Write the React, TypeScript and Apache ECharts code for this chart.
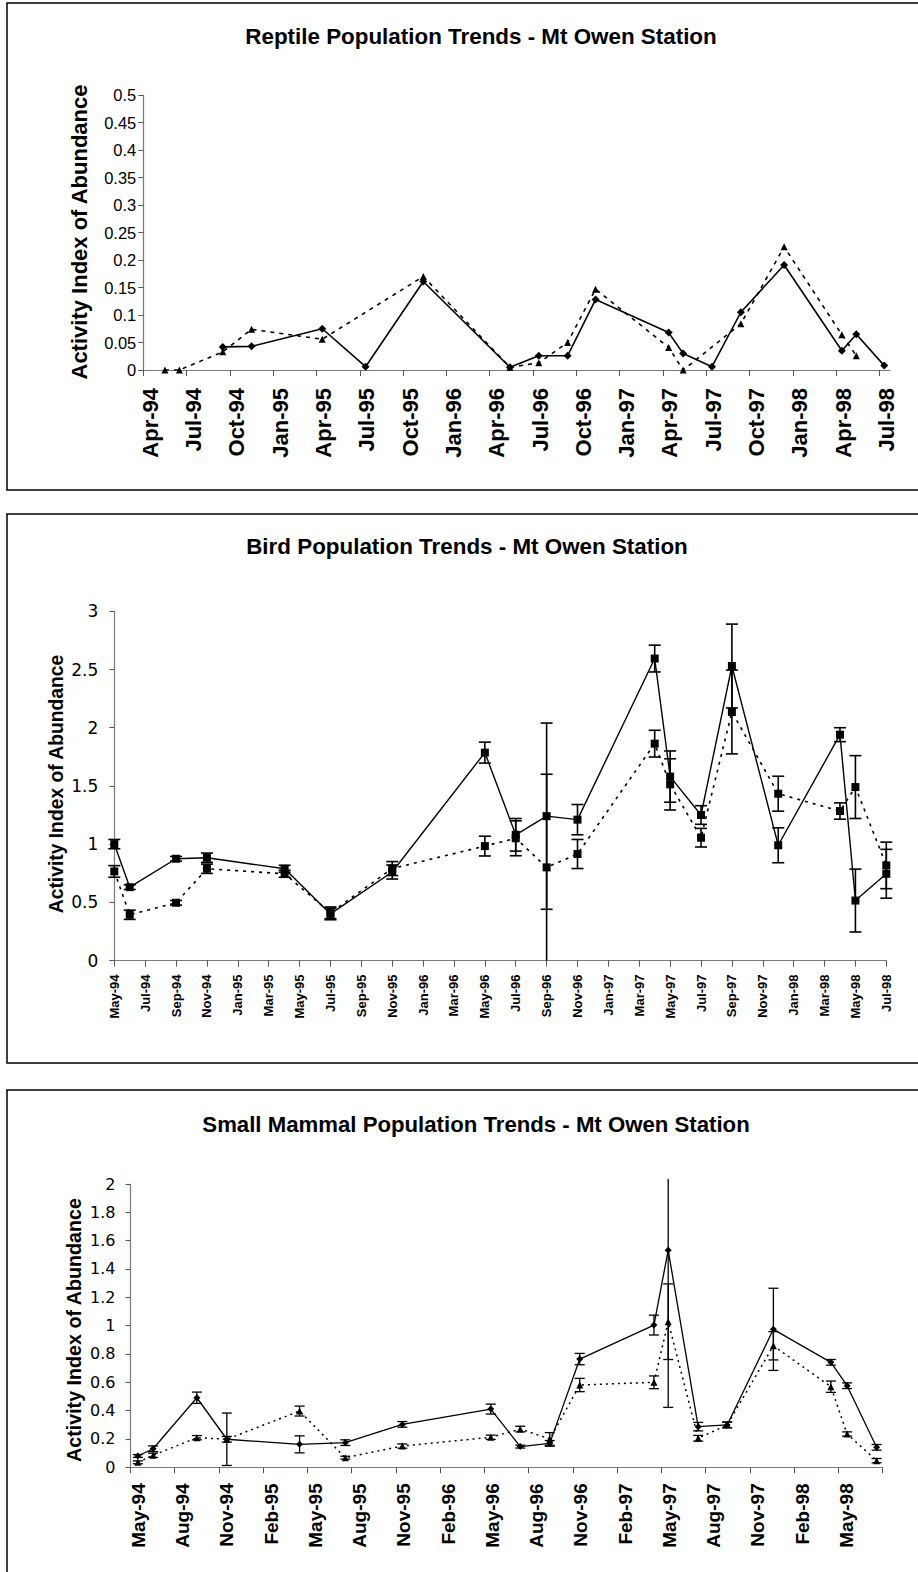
import { useEffect, useRef } from 'react';
import * as echarts from 'echarts';

const MONTHS = ['Jan', 'Feb', 'Mar', 'Apr', 'May', 'Jun', 'Jul', 'Aug', 'Sep', 'Oct', 'Nov', 'Dec'];

// ---------------- Reptiles ----------------
const reptileDates = ['1994-05-16', '1994-06-16', '1994-09-16', '1994-11-16', '1995-04-13', '1995-07-13', '1995-11-13', '1996-05-13', '1996-07-13', '1996-09-13', '1996-11-11', '1997-04-13', '1997-05-13', '1997-07-13', '1997-09-13', '1997-12-13', '1998-04-13', '1998-05-13', '1998-07-11'];
const reptileSolid = [null, null, 0.042, 0.043, 0.075, 0.006, 0.161, 0.005, 0.026, 0.026, 0.128, 0.068, 0.030, 0.006, 0.105, 0.191, 0.035, 0.065, 0.008];
const reptileDashed = [0, 0, 0.033, 0.074, 0.056, null, 0.170, 0.005, 0.013, 0.050, 0.147, 0.041, 0, null, 0.084, 0.224, 0.064, 0.026, null];
const reptileTickLabels = ['Apr-94', 'Jul-94', 'Oct-94', 'Jan-95', 'Apr-95', 'Jul-95', 'Oct-95', 'Jan-96', 'Apr-96', 'Jul-96', 'Oct-96', 'Jan-97', 'Apr-97', 'Jul-97', 'Oct-97', 'Jan-98', 'Apr-98', 'Jul-98'];
const reptileAxisEnd = '1998-07-23';

// ---------------- Birds ----------------
const birdDates = ['1994-05-01', '1994-06-01', '1994-09-01', '1994-11-01', '1995-04-02', '1995-07-01', '1995-11-01', '1996-05-01', '1996-07-01', '1996-09-01', '1996-11-01', '1997-04-01', '1997-05-01', '1997-07-01', '1997-09-01', '1997-12-01', '1998-04-01', '1998-05-01', '1998-07-01'];
const birdSolid = [1.0, 0.63, 0.874, 0.883, 0.788, 0.40, 0.76, 1.786, 1.08, 1.24, 1.21, 2.594, 1.58, 1.25, 2.53, 0.99, 1.94, 0.515, 0.745];
const birdSolidErr = [0.04, 0.02, 0.02, 0.04, 0.03, 0.05, 0.06, 0.09, 0.14, 0.80, 0.13, 0.115, 0.22, 0.08, 0.36, 0.15, 0.06, 0.27, 0.21];
const birdDashed = [0.765, 0.393, 0.496, 0.788, 0.745, 0.41, 0.79, 0.983, 1.05, 0.80, 0.915, 1.863, 1.513, 1.055, 2.135, 1.433, 1.284, 1.49, 0.817];
const birdDashedErr = [0.05, 0.04, 0.02, 0.04, 0.03, 0.05, 0.06, 0.085, 0.15, 0.80, 0.125, 0.115, 0.22, 0.08, 0.36, 0.15, 0.07, 0.27, 0.2];
const birdTickLabels = ['May-94', 'Jul-94', 'Sep-94', 'Nov-94', 'Jan-95', 'Mar-95', 'May-95', 'Jul-95', 'Sep-95', 'Nov-95', 'Jan-96', 'Mar-96', 'May-96', 'Jul-96', 'Sep-96', 'Nov-96', 'Jan-97', 'Mar-97', 'May-97', 'Jul-97', 'Sep-97', 'Nov-97', 'Jan-98', 'Mar-98', 'May-98', 'Jul-98'];

// ---------------- Small mammals ----------------
const mammalDates = ['1994-05-16', '1994-06-17', '1994-09-16', '1994-11-17', '1995-04-15', '1995-07-18', '1995-11-14', '1996-05-14', '1996-07-14', '1996-09-14', '1996-11-15', '1997-04-16', '1997-05-15', '1997-07-16', '1997-09-15', '1997-12-19', '1998-04-16', '1998-05-19', '1998-07-19'];
const mammalSolid = [0.080, 0.131, 0.491, 0.198, 0.162, 0.174, 0.303, 0.411, 0.146, 0.169, 0.764, 1.004, 1.533, 0.287, 0.299, 0.974, 0.741, 0.576, 0.141];
const mammalSolidErr = [0.01, 0.02, 0.04, 0.185, 0.06, 0.02, 0.02, 0.035, 0.01, 0.02, 0.04, 0.07, 1.11, 0.03, 0.02, 0.29, 0.02, 0.02, 0.02];
const mammalDashed = [0.035, 0.085, 0.209, 0.198, 0.397, 0.068, 0.150, 0.212, 0.270, 0.200, 0.581, 0.600, 1.028, 0.205, 0.300, 0.858, 0.569, 0.235, 0.047];
const mammalDashedErr = [0.01, 0.015, 0.015, 0.02, 0.035, 0.01, 0.015, 0.015, 0.02, 0.045, 0.047, 0.045, 0.267, 0.02, 0.02, 0.1, 0.04, 0.015, 0.015];
const mammalTickLabels = ['May-94', 'Aug-94', 'Nov-94', 'Feb-95', 'May-95', 'Aug-95', 'Nov-95', 'Feb-96', 'May-96', 'Aug-96', 'Nov-96', 'Feb-97', 'May-97', 'Aug-97', 'Nov-97', 'Feb-98', 'May-98'];
const mammalAxisEnd = 'Aug-98';

const TITLES = [
  'Reptile Population Trends - Mt Owen Station',
  'Bird Population Trends - Mt Owen Station',
  'Small Mammal Population Trends - Mt Owen Station',
];
const Y_TITLE = 'Activity Index of Abundance';

const FONT = '"Liberation Sans", Arial, Helvetica, sans-serif';
const WIDE = '"DejaVu Sans", Verdana, sans-serif';

function toMonth(d: string): number {
  const [y, m, day] = d.split('-').map(Number);
  return (y - 1994) * 12 + (m - 1) + (day - 1) / 30;
}
function labelToMonth(l: string): number {
  const [mon, yy] = l.split('-');
  return (Number(yy) - 94) * 12 + MONTHS.indexOf(mon);
}

function pts(dates: string[], vals: (number | null)[]) {
  return dates
    .map((d, i) => [toMonth(d), vals[i]] as [number, number | null])
    .filter((p) => p[1] !== null);
}
function errPts(dates: string[], vals: number[], errs: number[]) {
  return dates.map((d, i) => [toMonth(d), Math.max(0, vals[i] - errs[i]), vals[i] + errs[i]]);
}

function errRender(capHalf: number, width: number) {
  return (params: any, api: any) => {
    const x = api.value(0);
    const lo = api.coord([x, api.value(1)]);
    const hi = api.coord([x, api.value(2)]);
    const cs = params.coordSys;
    const topLimit = cs.y - 5;
    const bottomLimit = cs.y + cs.height;
    const topY = Math.max(hi[1], topLimit);
    const botY = Math.min(lo[1], bottomLimit);
    const style = { stroke: '#000', lineWidth: width };
    const children: any[] = [
      { type: 'line', shape: { x1: lo[0], y1: botY, x2: lo[0], y2: topY }, style },
    ];
    if (hi[1] > topLimit) {
      children.push({ type: 'line', shape: { x1: lo[0] - capHalf, y1: topY, x2: lo[0] + capHalf, y2: topY }, style });
    }
    if (lo[1] < bottomLimit - 0.5) {
      children.push({ type: 'line', shape: { x1: lo[0] - capHalf, y1: botY, x2: lo[0] + capHalf, y2: botY }, style });
    }
    return { type: 'group', children };
  };
}

function makeXAxis(idx: number, labels: string[], tickExtra: number[], min: number, max: number, fontSize: number, margin: number, shiftLine: number | null) {
  const labelMonths = labels.map(labelToMonth);
  const tickMonths = labelMonths.concat(tickExtra);
  const label: any = {
    customValues: labelMonths,
    rotate: 90,
    margin,
    fontFamily: FONT,
    fontWeight: 'bold',
    fontSize,
    color: '#000',
    formatter: (v: number) => {
      const k = labelMonths.findIndex((m) => Math.abs(m - v) < 1e-6);
      return k >= 0 ? labels[k] : '';
    },
  };
  if (shiftLine !== null) {
    label.verticalAlign = 'top';
    label.lineHeight = shiftLine;
  }
  return {
    gridIndex: idx,
    type: 'value',
    min,
    max,
    axisLine: { show: true, onZero: false, lineStyle: { color: '#7a7a7a', width: 1.2 } },
    axisTick: { show: true, customValues: tickMonths, length: 6, lineStyle: { color: '#555', width: 1 } },
    axisLabel: label,
    splitLine: { show: false },
  };
}

function makeYAxis(idx: number, max: number, interval: number, fontSize: number, margin: number, family: string) {
  return {
    gridIndex: idx,
    type: 'value',
    min: 0,
    max,
    interval,
    axisLine: { show: true, lineStyle: { color: '#7a7a7a', width: 1.2 } },
    axisTick: { show: true, length: 5, lineStyle: { color: '#555', width: 1 } },
    axisLabel: { fontFamily: family, fontSize, color: '#000', margin },
    splitLine: { show: false },
  };
}

export default function App() {
  const ref = useRef<HTMLDivElement>(null);

  useEffect(() => {
    document.body.style.margin = '0';
    if (!ref.current) return;
    const chart = echarts.init(ref.current, undefined, { renderer: 'svg' });

    const W = 918;
    const grids = [
      { left: 143.3, top: 95, width: 890 - 143.3, height: 275 },
      { left: 114.3, top: 611.3, width: 886.3 - 114.3, height: 349.2 },
      { left: 130.5, top: 1184, width: 882.5 - 130.5, height: 283.3 },
    ].map((g) => ({ ...g, containLabel: false }));

    const series: any[] = [
      // Reptiles
      {
        type: 'line', xAxisIndex: 0, yAxisIndex: 0, data: pts(reptileDates, reptileSolid),
        symbol: 'diamond', symbolSize: 8, lineStyle: { color: '#000', width: 1.6 }, itemStyle: { color: '#000' }, z: 3,
      },
      {
        type: 'line', xAxisIndex: 0, yAxisIndex: 0, data: pts(reptileDates, reptileDashed),
        symbol: 'triangle', symbolSize: 7, lineStyle: { color: '#000', width: 1.6, type: [4, 5] }, itemStyle: { color: '#000' }, z: 2,
      },
      // Birds
      {
        type: 'custom', xAxisIndex: 1, yAxisIndex: 1, data: errPts(birdDates, birdSolid, birdSolidErr),
        renderItem: errRender(6, 1.6), encode: { x: 0, y: [1, 2] }, z: 1,
      },
      {
        type: 'custom', xAxisIndex: 1, yAxisIndex: 1, data: errPts(birdDates, birdDashed, birdDashedErr),
        renderItem: errRender(6, 1.6), encode: { x: 0, y: [1, 2] }, z: 1,
      },
      {
        type: 'line', xAxisIndex: 1, yAxisIndex: 1, data: pts(birdDates, birdSolid),
        symbol: 'rect', symbolSize: 8, lineStyle: { color: '#000', width: 1.4 }, itemStyle: { color: '#000' }, z: 3,
      },
      {
        type: 'line', xAxisIndex: 1, yAxisIndex: 1, data: pts(birdDates, birdDashed),
        symbol: 'rect', symbolSize: 8, lineStyle: { color: '#000', width: 1.6, type: [3, 5] }, itemStyle: { color: '#000' }, z: 2,
      },
      // Small mammals
      {
        type: 'custom', xAxisIndex: 2, yAxisIndex: 2, data: errPts(mammalDates, mammalSolid, mammalSolidErr),
        renderItem: errRender(5, 1.3), encode: { x: 0, y: [1, 2] }, z: 1,
      },
      {
        type: 'custom', xAxisIndex: 2, yAxisIndex: 2, data: errPts(mammalDates, mammalDashed, mammalDashedErr),
        renderItem: errRender(5, 1.3), encode: { x: 0, y: [1, 2] }, z: 1,
      },
      {
        type: 'line', xAxisIndex: 2, yAxisIndex: 2, data: pts(mammalDates, mammalSolid),
        symbol: 'diamond', symbolSize: 7, lineStyle: { color: '#000', width: 1.3 }, itemStyle: { color: '#000' }, z: 3,
      },
      {
        type: 'line', xAxisIndex: 2, yAxisIndex: 2, data: pts(mammalDates, mammalDashed),
        symbol: 'triangle', symbolSize: 7, lineStyle: { color: '#000', width: 1.5, type: [2, 4] }, itemStyle: { color: '#000' }, z: 2,
      },
    ].map((s) => ({ ...s, silent: true, animation: false }));

    const panels = [
      { top: 3, bottom: 490, titleX: 481, titleY: 36, titleSize: 22.4, yTitleX: 79, yTitleY: 232, yTitleSize: 22 },
      { top: 514, bottom: 1063, titleX: 467, titleY: 546, titleSize: 22.4, yTitleX: 56, yTitleY: 784, yTitleSize: 19.3 },
      { top: 1090, bottom: 1620, titleX: 476, titleY: 1124, titleSize: 22.2, yTitleX: 74, yTitleY: 1330, yTitleSize: 19.7 },
    ];

    const graphic: any[] = [];
    panels.forEach((p, i) => {
      graphic.push({
        type: 'rect', silent: true, z: -10,
        shape: { x: 7, y: p.top, width: W + 20, height: p.bottom - p.top },
        style: { fill: 'none', stroke: '#000', lineWidth: 1.5 },
      });
      graphic.push({
        type: 'text', silent: true, x: p.titleX, y: p.titleY,
        style: { text: TITLES[i], font: `bold ${p.titleSize}px ${FONT}`, fill: '#000', textAlign: 'center', textVerticalAlign: 'middle' },
      });
      graphic.push({
        type: 'text', silent: true, x: p.yTitleX, y: p.yTitleY, rotation: Math.PI / 2,
        style: { text: Y_TITLE, font: `bold ${p.yTitleSize}px ${FONT}`, fill: '#000', textAlign: 'center', textVerticalAlign: 'middle' },
      });
    });

    chart.setOption({
      animation: false,
      backgroundColor: '#fff',
      grid: grids,
      xAxis: [
        makeXAxis(0, reptileTickLabels, [], labelToMonth(reptileTickLabels[0]), toMonth(reptileAxisEnd), 22, 18, 14),
        makeXAxis(1, birdTickLabels, [], labelToMonth(birdTickLabels[0]), labelToMonth(birdTickLabels[birdTickLabels.length - 1]), 13, 14, null),
        makeXAxis(2, mammalTickLabels, [labelToMonth(mammalAxisEnd)], labelToMonth(mammalTickLabels[0]), labelToMonth(mammalAxisEnd), 19, 16, 16),
      ],
      yAxis: [
        makeYAxis(0, 0.5, 0.05, 16.5, 7, FONT),
        makeYAxis(1, 3, 0.5, 17, 16, WIDE),
        makeYAxis(2, 2, 0.2, 16, 15, WIDE),
      ],
      graphic,
      series,
    });

    return () => chart.dispose();
  }, []);

  return <div ref={ref} style={{ width: 918, height: 1572 }} />;
}
